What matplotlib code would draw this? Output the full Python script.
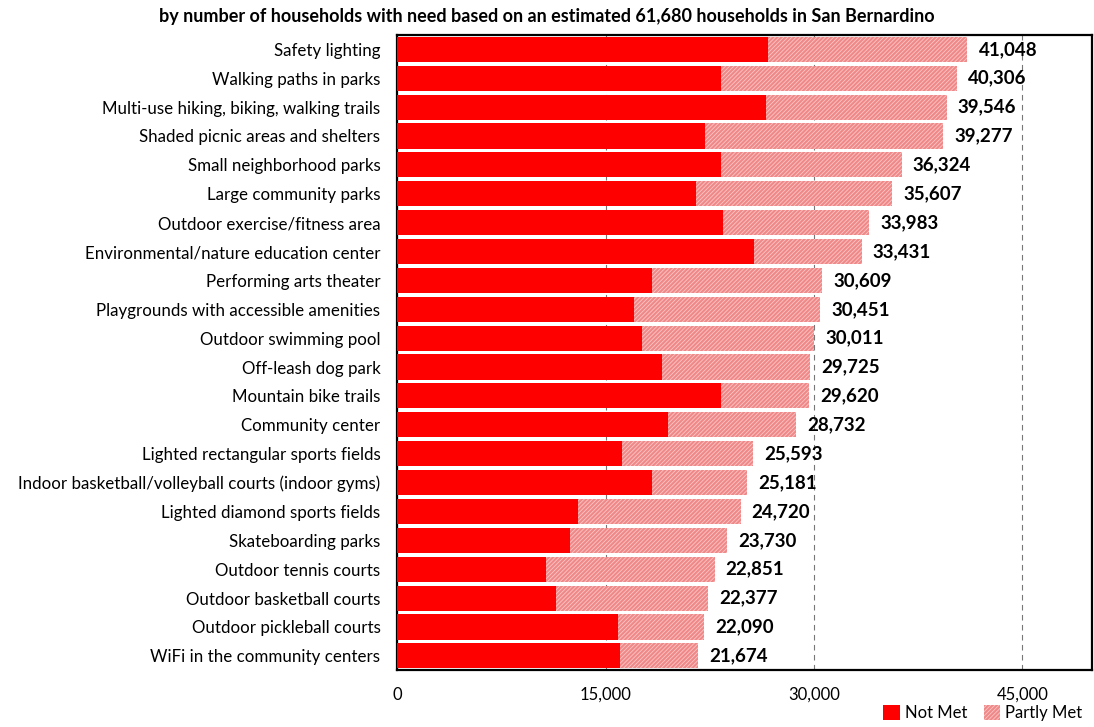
import numpy as np
import matplotlib.pyplot as plt
from matplotlib.patches import Patch

plt.rcParams['font.family'] = ['Lato', 'DejaVu Sans']
plt.rcParams['hatch.linewidth'] = 0.6

categories = [
    "Safety lighting",
    "Walking paths in parks",
    "Multi-use hiking, biking, walking trails",
    "Shaded picnic areas and shelters",
    "Small neighborhood parks",
    "Large community parks",
    "Outdoor exercise/fitness area",
    "Environmental/nature education center",
    "Performing arts theater",
    "Playgrounds with accessible amenities",
    "Outdoor swimming pool",
    "Off-leash dog park",
    "Mountain bike trails",
    "Community center",
    "Lighted rectangular sports fields",
    "Indoor basketball/volleyball courts (indoor gyms)",
    "Lighted diamond sports fields",
    "Skateboarding parks",
    "Outdoor tennis courts",
    "Outdoor basketball courts",
    "Outdoor pickleball courts",
    "WiFi in the community centers",
]
totals = [41048, 40306, 39546, 39277, 36324, 35607, 33983, 33431, 30609, 30451,
          30011, 29725, 29620, 28732, 25593, 25181, 24720, 23730, 22851, 22377,
          22090, 21674]
not_met = [26700, 23330, 26570, 22190, 23330, 21540, 23480, 25700, 18310, 17020,
           17590, 19030, 23330, 19530, 16160, 18310, 13000, 12420, 10700, 11420,
           15870, 16010]
partly_met = [t - n for t, n in zip(totals, not_met)]

red = '#ff0000'
pink_face = '#f08888'
pink_hatch = '#f9c8c8'

fig = plt.figure(figsize=(10.94, 7.27), dpi=100)
ax = fig.add_axes([0.363, 0.078, 0.635, 0.874])

y = np.arange(len(categories))
ax.barh(y, not_met, height=0.87, color=red, linewidth=0, zorder=3)
ax.barh(y, partly_met, left=not_met, height=0.87, facecolor=pink_face,
        edgecolor=pink_hatch, hatch='////////', linewidth=0, zorder=3)

for yi, t in zip(y, totals):
    ax.text(t + 800, yi, f"{t:,}", va='center', ha='left', fontsize=13.5,
            fontweight='bold', zorder=4)

ax.set_ylim(len(categories) - 0.5, -0.5)
ax.set_xlim(0, 50000)
ax.set_yticks(y)
ax.set_yticklabels(categories, fontsize=12.2)
ax.set_xticks([0, 15000, 30000, 45000])
ax.set_xticklabels(["0", "15,000", "30,000", "45,000"], fontsize=12)
ax.tick_params(axis='y', length=0, pad=12)
ax.tick_params(axis='x', length=0, pad=12)
ax.xaxis.grid(True, linestyle=(0, (5, 4)), color='#777777', linewidth=0.8, zorder=1)
for s in ax.spines.values():
    s.set_linewidth(1.6)
    s.set_color('black')

fig.text(0.5, 0.977, "by number of households with need based on an estimated 61,680 households in San Bernardino",
         ha='center', va='center', fontsize=13, fontweight='bold')

handles = [Patch(facecolor=red, linewidth=0, label='Not Met'),
           Patch(facecolor=pink_face, edgecolor=pink_hatch, hatch='////////', linewidth=0, label='Partly Met')]
fig.legend(handles=handles, loc='lower right', bbox_to_anchor=(1.0, -0.008), ncol=2,
           frameon=False, fontsize=12, handlelength=1.0, handleheight=1.0,
           handletextpad=0.3, columnspacing=1.0, borderpad=0.2)

fig.savefig('out.png', dpi=100)
